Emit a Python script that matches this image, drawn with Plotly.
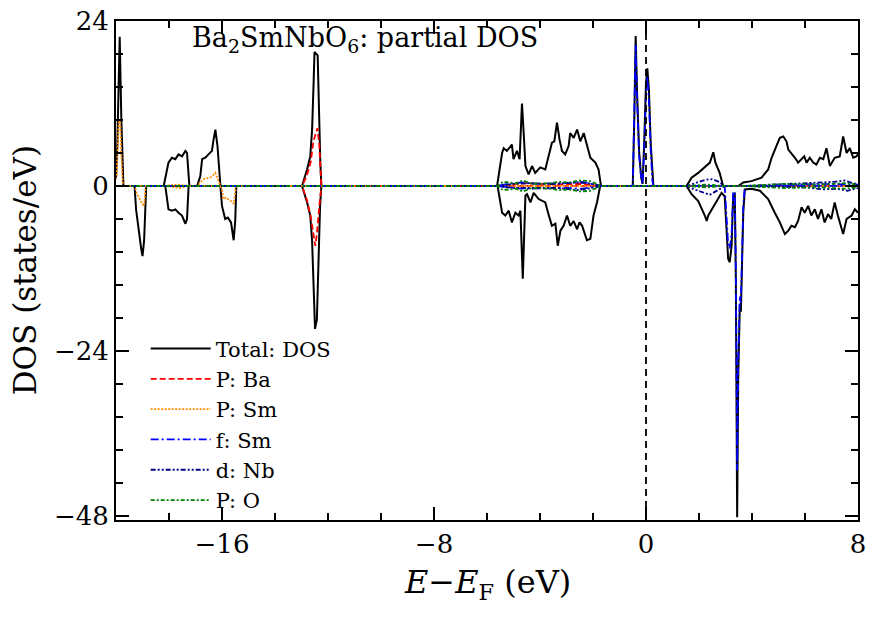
import plotly.graph_objects as go

# ---------------- data ----------------
E_tot_up = [-20.0, -19.95, -19.86, -19.8, -19.72,
            -18.2, -18.02, -17.89, -17.76, -17.64, -17.51, -17.38, -17.32, -17.23,
            -16.94, -16.82, -16.75, -16.63, -16.51, -16.38, -16.32, -16.25, -16.17, -16.06,
            -12.98, -12.79, -12.67, -12.60, -12.54, -12.51, -12.39, -12.36, -12.29, -12.25,
            -5.62, -5.43, -5.37, -5.25, -5.06, -5.0, -4.87, -4.77, -4.68, -4.62, -4.55, -4.43, -4.30,
            -4.18, -3.99, -3.80, -3.68, -3.55, -3.46, -3.36, -3.26, -3.17, -3.05, -2.92, -2.86, -2.73,
            -2.60, -2.48, -2.35, -2.23, -2.10, -1.91, -1.79, -1.70,
            -0.50, -0.44, -0.39, -0.34, -0.26, -0.18, -0.13, -0.07, 0.0, 0.05, 0.11, 0.18, 0.24, 0.28,
            1.53, 1.72, 1.97, 2.22, 2.41, 2.54, 2.62, 2.78, 2.91,
            3.48, 3.67, 3.98, 4.36, 4.61, 4.74, 4.92, 5.05, 5.18, 5.30, 5.37, 5.49, 5.62, 5.74, 5.87,
            5.97, 6.06, 6.18, 6.31, 6.43, 6.56, 6.69, 6.81, 6.94, 7.12, 7.31, 7.44, 7.57, 7.69, 7.82,
            7.94, 8.0]
tot_up = [1.0, 6.0, 21.7, 10.0, 0.0,
          0.0, 3.4, 4.1, 3.9, 4.6, 4.3, 5.1, 4.8, 0.0,
          0.0, 1.4, 3.9, 4.1, 4.6, 5.1, 6.7, 8.2, 5.8, 0.0,
          0.0, 2.4, 4.3, 8.2, 15.4, 19.5, 19.0, 13.0, 3.4, 0.0,
          0.0, 4.8, 5.5, 5.1, 6.0, 3.9, 5.1, 3.9, 12.0, 8.0, 2.9, 1.7, 2.9,
          1.9, 2.7, 2.4, 4.3, 6.3, 6.5, 9.2, 6.7, 5.1, 4.6, 5.8, 7.7, 7.0,
          8.2, 6.5, 7.7, 5.8, 4.1, 3.4, 2.4, 0.0,
          0.0, 10.0, 21.8, 14.0, 5.0, 1.2, 0.3, 6.0, 15.0, 17.1, 14.0, 6.0, 1.0, 0.0,
          0.0, 1.2, 1.9, 2.7, 3.4, 4.9, 3.4, 1.9, 0.0,
          0.0, 0.5, 0.7, 1.2, 2.4, 4.1, 5.8, 7.0, 7.2, 6.5, 5.3, 4.8, 4.1, 3.4, 3.9,
          4.3, 3.4, 4.1, 3.4, 3.1, 4.1, 3.9, 5.5, 2.9, 4.1, 4.3, 7.2, 4.8, 5.5, 4.1,
          4.3, 4.6]

E_tot_dn = [-20.0, -19.3, -19.24, -19.17, -19.1, -19.05, -19.0, -18.94, -18.9, -18.86,
            -18.14, -18.02, -17.89, -17.76, -17.64, -17.51, -17.38, -17.32, -17.26,
            -16.06, -16.0, -15.88, -15.78, -15.66, -15.56, -15.5, -15.46,
            -12.98, -12.79, -12.67, -12.6, -12.54, -12.49, -12.42, -12.37, -12.3, -12.25,
            -5.6, -5.43, -5.31, -5.18, -5.06, -4.93, -4.81, -4.74, -4.65, -4.55, -4.49, -4.36, -4.24,
            -4.05, -3.80, -3.68, -3.55, -3.42, -3.33, -3.23, -3.11, -2.98, -2.86, -2.73, -2.60, -2.51,
            -2.41, -2.23, -2.10, -1.98, -1.85, -1.73,
            1.53, 1.72, 1.97, 2.22, 2.29, 2.35, 2.6, 2.85, 2.97, 3.04, 3.10, 3.16, 3.23, 3.29, 3.35,
            3.39, 3.42, 3.44, 3.48, 3.54, 3.58, 3.60, 3.67, 3.73, 3.98, 4.30, 4.61, 4.86, 5.05, 5.24,
            5.37, 5.49, 5.62, 5.74, 5.87, 5.99, 6.12, 6.24, 6.37, 6.49, 6.62, 6.74, 6.87, 6.99, 7.12,
            7.24, 7.44, 7.57, 7.76, 7.88, 8.0]
tot_dn = [0.0, 0.0, -3.5, -5.8, -7.2, -9.1, -10.2, -8.0, -4.0, 0.0,
          0.0, -3.4, -3.6, -3.4, -3.9, -4.3, -5.5, -4.8, 0.0,
          0.0, -2.9, -4.8, -4.6, -5.3, -7.9, -5.0, 0.0,
          0.0, -2.4, -4.3, -8.0, -15.0, -20.8, -19.5, -12.0, -3.0, 0.0,
          0.0, -3.9, -4.3, -3.6, -5.3, -3.9, -4.3, -3.6, -13.5, -1.4, -1.2, -2.4, -1.0,
          -1.9, -2.4, -4.1, -5.8, -5.5, -8.7, -6.5, -5.8, -4.3, -5.8, -5.1, -6.3, -5.3,
          -5.8, -7.9, -7.7, -4.3, -2.4, 0.0,
          0.0, -1.2, -2.2, -4.3, -5.1, -4.3, -2.6, -1.0, -1.5, -6.3, -10.6, -11.1, -8.7, -1.4, -1.0,
          -13.5, -32.7, -48.2, -27.9, -17.3, -18.3, -14.9, -3.9, -0.5, -0.4, -0.7, -1.9, -3.9, -5.3, -7.0,
          -6.5, -5.8, -6.0, -5.1, -3.1, -3.9, -2.9, -4.3, -3.4, -4.8, -3.4, -5.3, -4.1, -4.8, -2.4,
          -4.3, -7.0, -4.8, -4.3, -3.4, -3.9]

E_ba_up = [-20.0, -12.98, -12.8, -12.65, -12.55, -12.45, -12.4, -12.33, -12.27, -12.25,
           -5.6, -4.65, -3.3, -2.5, -1.7, 8.0]
ba_up = [0.0, 0.0, 1.5, 3.5, 6.5, 8.0, 8.4, 6.0, 2.0, 0.0,
         0.0, 0.4, 0.2, 0.3, 0.0, 0.0]
E_ba_dn = [-20.0, -12.98, -12.8, -12.65, -12.48, -12.42, -12.33, -12.25, 8.0]
ba_dn = [0.0, 0.0, -2.0, -4.5, -8.7, -7.0, -3.0, 0.0, 0.0]

E_smp_up = [-20.0, -19.97, -19.9, -19.84, -19.8, -19.74,
            -18.2, -17.7, -17.23,
            -16.94, -16.82, -16.7, -16.5, -16.4, -16.25, -16.17, -16.06, 8.0]
smp_up = [1.0, 2.0, 9.2, 9.4, 4.8, 0.0,
          0.0, 0.2, 0.0,
          0.0, 0.5, 1.0, 1.2, 1.3, 1.9, 1.0, 0.0, 0.0]
E_smp_dn = [-20.0, -19.3, -19.22, -19.1, -19.0, -18.94, -18.88,
            -18.14, -17.6, -17.26,
            -16.06, -16.0, -15.95, -15.85, -15.66, -15.56, -15.47, 8.0]
smp_dn = [0.0, 0.0, -1.0, -1.9, -2.7, -2.9, 0.0,
          0.0, -0.3, 0.0,
          0.0, -0.5, -1.9, -1.7, -2.2, -2.6, 0.0, 0.0]

E_smf_up = [-20.0, -5.6, -5.2, -4.7, -4.0, -3.0, -2.4, -1.7,
            -0.50, -0.44, -0.39, -0.34, -0.26, -0.18, -0.13, -0.07, 0.0, 0.05, 0.11, 0.18, 0.24, 0.28,
            4.5, 6.5, 7.5, 8.0]
smf_up = [0.0, 0.0, 0.3, 0.5, 0.3, 0.4, 0.6, 0.0,
          0.0, 9.0, 20.5, 13.0, 4.5, 1.0, 0.3, 5.0, 13.5, 16.0, 12.5, 5.0, 0.8, 0.0,
          0.0, 0.3, 0.3, 0.2]
E_smf_dn = [-20.0, -5.6, -4.7, -3.0, -2.4, -1.7,
            2.97, 3.04, 3.10, 3.16, 3.23, 3.29, 3.35, 3.39, 3.42, 3.44, 3.48, 3.54, 3.58, 3.60, 3.67, 3.73,
            8.0]
smf_dn = [0.0, 0.0, -0.4, -0.3, -0.4, 0.0,
          0.0, -4.0, -8.5, -9.1, -7.0, -1.0, -0.8, -12.0, -30.0, -41.4, -26.0, -16.0, -17.0, -14.0, -3.0, 0.0,
          0.0]

E_nbd_up = [-20.0, -5.6, -5.0, -4.4, -3.5, -2.6, -2.2, -1.7,
            1.55, 1.75, 2.0, 2.25, 2.5, 2.75, 2.95,
            3.7, 5.0, 6.5, 7.1, 7.5, 7.8, 8.0]
nbd_up = [0.0, 0.0, 0.3, 0.4, 0.3, 0.5, 0.4, 0.0,
          0.0, 0.3, 0.6, 0.9, 1.0, 0.6, 0.0,
          0.0, 0.2, 0.5, 0.6, 0.8, 0.4, 0.3]
E_nbd_dn = [-20.0, -5.6, -5.0, -4.4, -3.3, -2.6, -2.2, -1.7,
            1.55, 1.75, 2.0, 2.2, 2.4, 2.6, 2.85, 2.97,
            3.7, 6.0, 6.7, 7.2, 7.6, 8.0]
nbd_dn = [0.0, 0.0, -0.3, -0.3, -0.3, -0.6, -0.4, 0.0,
          0.0, -0.4, -0.7, -1.0, -1.3, -0.9, -0.3, 0.0,
          0.0, -0.2, -0.5, -0.4, -0.7, -0.3]

E_op_up = [-20.0, -5.6, -5.4, -4.9, -4.65, -4.3, -3.6, -3.3, -2.9, -2.5, -2.1, -1.7,
           1.5, 2.3, 2.9, 3.7, 5.2, 6.5, 7.5, 8.0]
op_up = [0.0, 0.0, 0.6, 0.4, 0.8, 0.3, 0.4, 0.6, 0.5, 0.8, 0.7, 0.0,
         0.0, 0.2, 0.0, 0.0, 0.3, 0.2, 0.4, 0.2]
E_op_dn = [-20.0, -5.6, -5.4, -4.9, -4.65, -4.3, -3.6, -3.3, -2.9, -2.5, -2.1, -1.7,
           1.5, 2.3, 2.9, 3.7, 5.2, 6.5, 7.5, 8.0]
op_dn = [0.0, 0.0, -0.6, -0.4, -0.8, -0.3, -0.4, -0.6, -0.5, -0.8, -0.7, 0.0,
         0.0, -0.2, 0.0, 0.0, -0.3, -0.2, -0.4, -0.2]

x_ticks = [-16, -8, 0, 8]
y_ticks = [-48, -24, 0, 24]

series = [
    ("Total: DOS", E_tot_up, tot_up, E_tot_dn, tot_dn, "#000000", "solid", 2.0),
    ("P: Ba", E_ba_up, ba_up, E_ba_dn, ba_dn, "#ff0000", "6px,3px", 1.8),
    ("P: Sm", E_smp_up, smp_up, E_smp_dn, smp_dn, "#ff8c00", "2px,1.5px", 1.8),
    ("f: Sm", E_smf_up, smf_up, E_smf_dn, smf_dn, "#0000ff", "8px,3px,2px,3px", 1.8),
    ("d: Nb", E_nbd_up, nbd_up, E_nbd_dn, nbd_dn, "#00008b", "5px,2px,2px,2px,2px,2px", 1.8),
    ("P: O", E_op_up, op_up, E_op_dn, op_dn, "#008000", "4px,2px,2px,2px", 1.8),
]

FONT = "DejaVu Serif"

fig = go.Figure()
for name, xu, yu, xd, yd, col, dash, lw in series:
    fig.add_trace(go.Scatter(
        x=list(xu) + [None] + list(xd),
        y=list(yu) + [None] + list(yd),
        mode="lines", name=name, connectgaps=False,
        line=dict(color=col, dash=dash, width=lw),
    ))

fig.add_shape(type="line", xref="x", yref="paper", x0=0, x1=0, y0=0, y1=1,
              line=dict(color="black", width=1.8, dash="7px,5px"), layer="above")

fig.add_annotation(text="Ba<sub>2</sub>SmNbO<sub>6</sub>: partial DOS",
                   xref="paper", yref="paper", x=0.336, y=0.962,
                   xanchor="center", yanchor="middle", showarrow=False,
                   font=dict(family=FONT, size=27, color="black"))
fig.add_annotation(text="DOS (states/eV)", textangle=-90,
                   xref="paper", yref="paper", x=-0.123, y=0.5,
                   xanchor="center", yanchor="middle", showarrow=False,
                   font=dict(family=FONT, size=31, color="black"))
fig.add_annotation(text="<i>E</i>\u2212<i>E</i><sub>F</sub> (eV)",
                   xref="paper", yref="paper", x=0.5, y=-0.128,
                   xanchor="center", yanchor="middle", showarrow=False,
                   font=dict(family=FONT, size=32, color="black"))

axis_common = dict(
    showgrid=False, zeroline=False, showline=True, linecolor="black", linewidth=2,
    mirror="allticks", ticks="inside", ticklen=13, tickwidth=1.8, tickcolor="black",
    tickfont=dict(family=FONT, size=26, color="black"),
    automargin=False, ticklabeloverflow="allow",
)
fig.update_xaxes(range=[-20, 8], tickvals=x_ticks,
                 minor=dict(dtick=2, tick0=0, ticks="inside", ticklen=7, tickwidth=1.8, tickcolor="black"),
                 **axis_common)
fig.update_yaxes(range=[-48.6, 24], tickvals=y_ticks,
                 minor=dict(dtick=4.8, tick0=0, ticks="inside", ticklen=7, tickwidth=1.8, tickcolor="black"),
                 **axis_common)

fig.update_layout(
    width=876, height=630, autosize=False,
    margin=dict(l=116, r=18, t=21, b=110, autoexpand=False),
    paper_bgcolor="white", plot_bgcolor="white",
    showlegend=True,
    legend=dict(x=0.040, y=0.384, xanchor="left", yanchor="top",
                bgcolor="rgba(0,0,0,0)", borderwidth=0, itemwidth=60,
                font=dict(family=FONT, size=21, color="black"), tracegroupgap=0),
)

# remove the browser's default page margin so the 876x630 figure fills the window exactly
fig.write_html("out.html", config={"displayModeBar": False},
               post_script="document.body.style.margin='0px';document.body.style.overflow='hidden';")
